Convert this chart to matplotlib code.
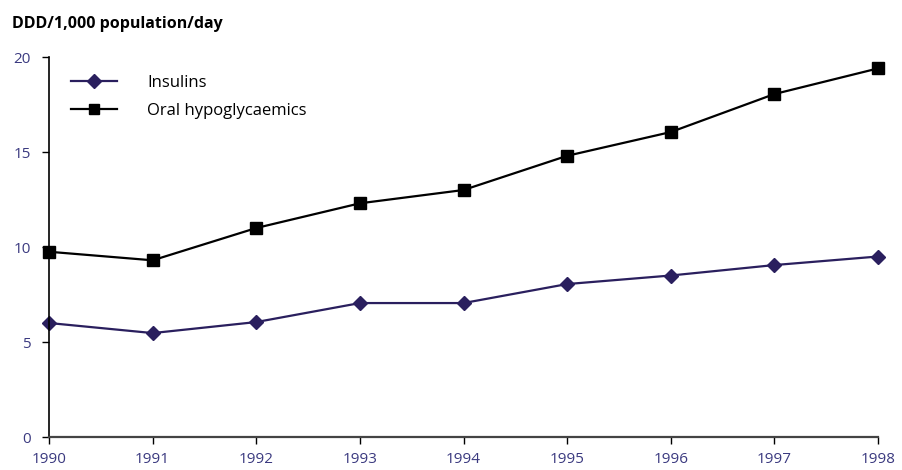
import matplotlib
matplotlib.use("Agg")
import matplotlib.pyplot as plt

years = [1990, 1991, 1992, 1993, 1994, 1995, 1996, 1997, 1998]
insulins = [6.0, 5.47, 6.05, 7.05, 7.05, 8.05, 8.5, 9.05, 9.5]
oral = [9.75, 9.3, 11.0, 12.3, 13.0, 14.8, 16.05, 18.05, 19.4]
yticks = [0, 5, 10, 15, 20]

navy = "#2a1f5e"
label_col = "#3b3a80"

plt.rcParams['font.family'] = ['Open Sans', 'DejaVu Sans']

fig = plt.figure(figsize=(9.03, 4.70), dpi=100)
ax = fig.add_axes([0.0543, 0.0702, 0.918, 0.8085])

ax.plot(years, insulins, color=navy, marker='D', markersize=7, linewidth=1.6,
        label='Insulins')
ax.plot(years, oral, color='black', marker='s', markersize=9, linewidth=1.6,
        label='Oral hypoglycaemics')

ax.set_xlim(1990, 1998)
ax.set_ylim(0, 20)
ax.set_xticks(years)
ax.set_yticks(yticks)
ax.set_xticklabels([str(y) for y in years])
ax.set_yticklabels([str(v) for v in yticks])
ax.tick_params(axis='both', colors='black', labelcolor=label_col, labelsize=11,
               length=5, width=1)
ax.tick_params(axis='y', pad=8)
ax.tick_params(axis='x', pad=6)

for s in ['top', 'right']:
    ax.spines[s].set_visible(False)
ax.spines['left'].set_linewidth(1.2)
ax.spines['bottom'].set_linewidth(1.6)
ax.spines['bottom'].set_color('#444444')
ax.spines['left'].set_clip_on(False)
ax.spines['bottom'].set_clip_on(False)
for l in ax.lines:
    l.set_clip_on(False)

leg = ax.legend(loc='upper left', bbox_to_anchor=(0.008, 0.993), frameon=False,
                fontsize=12, handlelength=2.8, handletextpad=1.8,
                labelspacing=0.72)
for h in leg.legend_handles:
    h.set_markersize(7)

fig.text(0.013, 0.948, 'DDD/1,000 population/day', fontsize=11.5,
         fontweight='bold', ha='left', va='center', color='black')

fig.savefig('out.png', dpi=100)
